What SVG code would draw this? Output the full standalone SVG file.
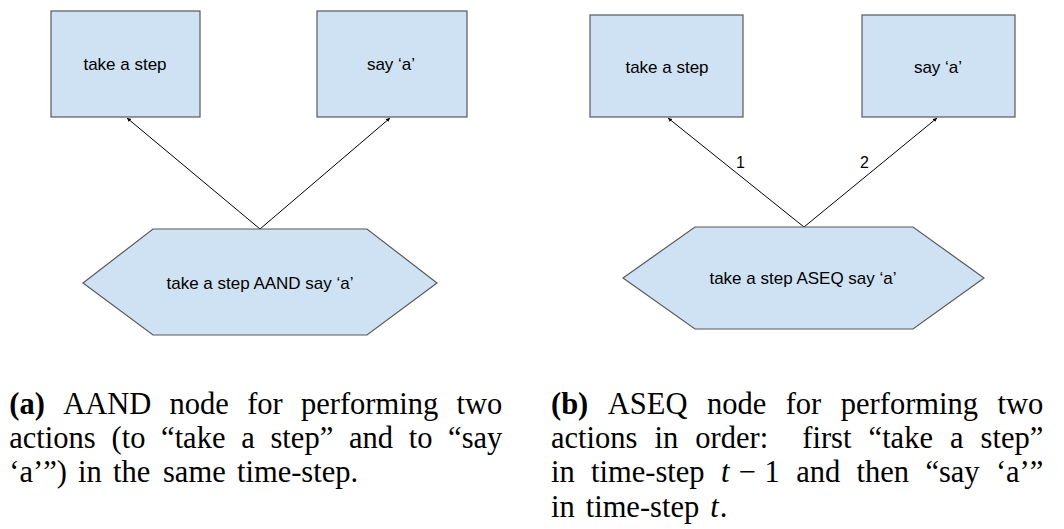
<svg xmlns="http://www.w3.org/2000/svg" width="1064" height="529" viewBox="0 0 1064 529">
<style>
.box{fill:#cfe2f3;stroke:#595959;stroke-width:1.2}
.lbl{font-family:"Liberation Sans",Arial,sans-serif;font-size:17px;fill:#000;text-anchor:middle}
.num{font-family:"Liberation Sans",Arial,sans-serif;font-size:16px;fill:#000}
.edge{stroke:#000;stroke-width:1;fill:none;marker-end:url(#ah)}
.cap{font-family:"Liberation Serif","Times New Roman",serif;font-size:30.5px;fill:#000}
.b{font-weight:bold}
.i{font-style:italic}
</style>
<defs>
<marker id="ah" markerUnits="userSpaceOnUse" markerWidth="6" markerHeight="6" refX="4" refY="2" orient="auto">
<path d="M0,0 L4,2 L0,4 z" fill="#000"/>
</marker>
</defs>
<rect width="1064" height="529" fill="#fff"/>
<g id="connectors">
<line class="edge" x1="260" y1="229" x2="127" y2="118"/>
<line class="edge" x1="260" y1="229" x2="390" y2="118"/>
<line class="edge" x1="804" y1="227" x2="668" y2="118"/>
<line class="edge" x1="804" y1="227" x2="937" y2="118"/>
<text class="num" x="736" y="168">1</text>
<text class="num" x="860" y="168">2</text>
</g>
<g id="a-take-step">
<rect class="box" x="51" y="11" width="149" height="106"/>
<text class="lbl" x="125" y="70">take a step</text>
</g>
<g id="a-say-a">
<rect class="box" x="317" y="11" width="150" height="106"/>
<text class="lbl" x="391" y="70">say ‘a’</text>
</g>
<g id="a-aand">
<polygon class="box" points="153,229 367,229 437,283 367,335 153,335 83,283"/>
<text class="lbl" x="260" y="289">take a step AAND say ‘a’</text>
</g>
<g id="b-take-step">
<rect class="box" x="590" y="15" width="153" height="102"/>
<text class="lbl" x="667" y="73">take a step</text>
</g>
<g id="b-say-a">
<rect class="box" x="862" y="15" width="153" height="102"/>
<text class="lbl" x="938" y="73">say ‘a’</text>
</g>
<g id="b-aseq">
<polygon class="box" points="695,227 913,227 984,278 913,329 695,329 623,278"/>
<text class="lbl" x="803" y="284">take a step ASEQ say ‘a’</text>
</g>
<g id="caption-a" class="cap">
<text y="414"><tspan class="b" x="9.3">(a)</tspan><tspan x="63.2">AAND</tspan><tspan x="169.6">node</tspan><tspan x="247.2">for</tspan><tspan x="301">performing</tspan><tspan x="456.6">two</tspan></text>
<text y="448"><tspan x="9.3">actions</tspan><tspan x="111.5">(to</tspan><tspan x="161.1">“take</tspan><tspan x="241.2">a</tspan><tspan x="270.5">step”</tspan><tspan x="348.9">and</tspan><tspan x="408.7">to</tspan><tspan x="448.1">“say</tspan></text>
<text y="482"><tspan x="9.3">‘a’”)</tspan><tspan x="78">in</tspan><tspan x="113">the</tspan><tspan x="163">same</tspan><tspan x="237">time-step.</tspan></text>
</g>
<g id="caption-b" class="cap">
<text y="414"><tspan class="b" x="551">(b)</tspan><tspan x="607.8">ASEQ</tspan><tspan x="706.9">node</tspan><tspan x="785.7">for</tspan><tspan x="840.8">performing</tspan><tspan x="997.5">two</tspan></text>
<text y="448"><tspan x="551">actions</tspan><tspan x="654.5">in</tspan><tspan x="695.3">order:</tspan><tspan x="802.3">first</tspan><tspan x="868.6">“take</tspan><tspan x="950">a</tspan><tspan x="980.6">step”</tspan></text>
<text y="482"><tspan x="551">in</tspan><tspan x="591.1">time-step</tspan><tspan class="i" x="720.9">t</tspan><tspan x="738.4">−</tspan><tspan x="764.6">1</tspan><tspan x="796.2">and</tspan><tspan x="856.5">then</tspan><tspan x="925.4">“say</tspan><tspan x="995.9">‘a’”</tspan></text>
<text y="517"><tspan x="551">in</tspan><tspan x="585.7">time-step</tspan><tspan class="i" x="710.2">t</tspan><tspan x="719.7">.</tspan></text>
</g>
</svg>
